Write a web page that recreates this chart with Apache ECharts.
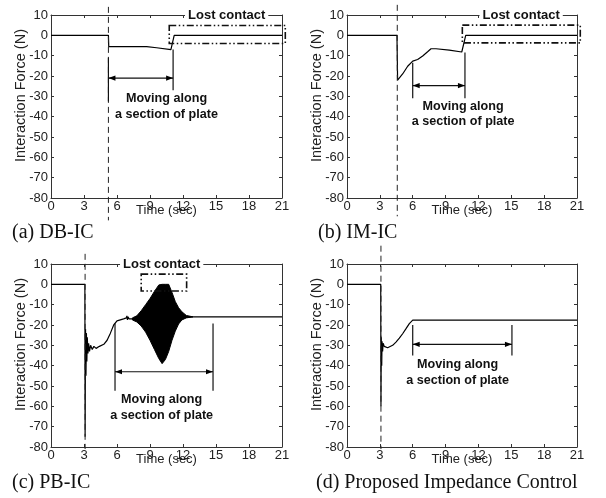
<!DOCTYPE html>
<html>
<head>
<meta charset="utf-8">
<style>
  html, body { margin: 0; padding: 0; background: #fff; }
  #chart { width: 606px; height: 498px; }
</style>
<script src="https://cdn.jsdelivr.net/npm/echarts@6/dist/echarts.min.js"></script>
</head>
<body>
<div id="chart"></div>
<script>
// axis ranges (same for all four panels)
const timeRange = [0, 21, 3];       // min, max, step (sec)
const forceRange = [-80, 10, 10];   // min, max, step (N)

// (a) DB-IC
const dbTime  = [0, 5.22, 5.25, 8.7, 9.6, 10.9, 11.2, 21];
const dbForce = [0, 0, -5.6, -5.6, -6.1, -7.0, 0, 0];

// (b) IM-IC
const imTime  = [0, 4.56, 4.62, 4.75, 5.08, 5.54, 6.0, 6.45, 6.91, 7.36, 7.67, 8.13, 9.34, 10.48, 10.84, 21];
const imForce = [0, 0, -22, -22.5, -19, -15.2, -12.7, -11.9, -10.2, -8.1, -6.6, -6.6, -7.3, -8.2, 0, 0];

// (c) PB-IC, main trace
const pbTime  = [0, 3.08, 3.1, 3.14, 3.18, 3.22, 3.26, 3.3, 3.36, 3.42, 3.5, 3.6, 3.75, 3.9, 4.1, 4.4, 4.8, 5.1, 5.4, 5.7, 6.0, 6.3, 6.6, 6.85, 6.9, 6.95, 7.0, 7.1, 7.4, 12.9, 21];
const pbForce = [0, 0, -75, -22, -45, -24, -38, -26, -34, -29, -33, -30, -32, -30.5, -31.5, -30.5, -29.5, -27.5, -24, -20, -18, -17.5, -17, -16.5, -15.5, -17.5, -16, -17, -17, -16, -16];
// (c) PB-IC, envelope of the fast oscillation
const envTime  = [7.4, 7.8, 8.2, 8.6, 9.0, 9.4, 9.8, 10.1, 10.4, 10.7, 11.0, 11.3, 11.6, 11.9, 12.3, 12.9];
const envUpper = [-16.5, -15.5, -13, -10, -7, -3.5, -0.3, 0, 0, 0, -4, -8.5, -11.5, -13.5, -15.3, -16];
const envLower = [-17.5, -18.5, -20.5, -23.5, -27.5, -32, -36.5, -39, -37, -33, -27.5, -23, -19.5, -17.5, -16.5, -16];

// (d) Proposed impedance control
const piTime  = [0, 3.08, 3.1, 3.13, 3.17, 3.2, 3.25, 3.3, 3.4, 3.71, 4.17, 4.47, 4.78, 5.08, 5.39, 5.69, 6.0, 21];
const piForce = [0, 0, -60, -26, -40, -28, -33, -29, -30.5, -31.2, -30, -28.4, -26.5, -24.3, -21.8, -19.3, -17.6, -17.6];

const captions = ['(a) DB-IC', '(b) IM-IC', '(c) PB-IC', '(d) Proposed Impedance Control'];

// annotations in data units
const notes = [
  { dash: [5.22, 14, -91], arrow: [5.22, 11.1, -21], ticks: [[5.22, -11, -32.5], [11.1, -7, -27]], text: [10.5, -35], box: [10.75, 21.3, 4.8, -4], lost: 15.97 },
  { dash: [4.59, 15, -89], arrow: [6.0, 10.77, -24.7], ticks: [[6.0, -13.5, -31], [10.77, -8.5, -31]], text: [10.6, -38.8], box: [10.53, 21.3, 5, -3.7], lost: 15.9 },
  { dash: [3.1, 15, -81], arrow: [5.82, 14.73, -43], ticks: [[5.82, -19.3, -52.3], [14.73, -19.3, -52.3]], text: [10.06, -60.5], box: [8.2, 12.33, 5, -3.3], lost: 10.06 },
  { dash: [3.1, 19, -81], arrow: [6.0, 15.06, -29.5], ticks: [[6.0, -20, -35], [15.06, -20, -35]], text: [10.1, -43.4], box: null, lost: null }
];

const zip = (a, b) => a.map((v, k) => [v, b[k]]);

const grids = [
  { left: 51, top: 15, width: 231, height: 183 },
  { left: 347, top: 15, width: 230, height: 183 },
  { left: 51, top: 264, width: 231, height: 183 },
  { left: 347, top: 264, width: 230, height: 183 }
];
const captionPos = [[12, 223], [318, 223], [12, 473], [316, 473]];

const axisColor = '#333';
const font = 'Liberation Sans, Arial, sans-serif';

const xAxes = [], yAxes = [];
grids.forEach((g, i) => {
  const common = {
    gridIndex: i, type: 'value',
    axisLine: { show: true, onZero: false, lineStyle: { color: axisColor, width: 1 } },
    axisTick: { show: true, inside: true, length: 3, lineStyle: { color: axisColor } },
    splitLine: { show: false }
  };
  xAxes.push({
    ...common, position: 'bottom',
    min: timeRange[0], max: timeRange[1], interval: timeRange[2],
    axisLabel: { margin: 2, fontSize: 13, color: '#222', fontFamily: font, showMinLabel: true, showMaxLabel: true },
    name: 'Time (sec)', nameLocation: 'middle', nameGap: 6, nameMoveOverlap: false,
    nameTextStyle: { fontSize: 13, color: '#222', fontFamily: font }
  });
  xAxes.push({
    ...common, position: 'top',
    min: timeRange[0], max: timeRange[1], interval: timeRange[2],
    axisLabel: { show: false }
  });
  yAxes.push({
    ...common, position: 'left',
    min: forceRange[0], max: forceRange[1], interval: forceRange[2],
    axisLabel: { margin: 3, fontSize: 13, color: '#222', fontFamily: font, showMinLabel: true, showMaxLabel: true },
    name: 'Interaction Force (N)', nameLocation: 'middle', nameGap: 23, nameMoveOverlap: false,
    nameTextStyle: { fontSize: 14.5, color: '#222', fontFamily: font, padding: [0, 0, 0, 22] }
  });
  yAxes.push({
    ...common, position: 'right',
    min: forceRange[0], max: forceRange[1], interval: forceRange[2],
    axisLabel: { show: false }
  });
});

const lineSeries = (i, t, f) => ({
  type: 'line', xAxisIndex: 2 * i, yAxisIndex: 2 * i,
  data: zip(t, f), showSymbol: false, symbol: 'none',
  lineStyle: { color: '#000', width: 1.2 }, z: 3
});

const chart = echarts.init(document.getElementById('chart'), null, { renderer: 'canvas' });

chart.setOption({
  animation: false,
  backgroundColor: '#fff',
  grid: grids.map(g => ({ ...g, outerBoundsMode: 'none', containLabel: false })),
  xAxis: xAxes,
  yAxis: yAxes,
  title: captions.map((c, i) => ({
    text: c, left: captionPos[i][0], top: captionPos[i][1], padding: 0,
    textStyle: { fontFamily: 'Liberation Serif, Times New Roman, serif', fontSize: 20, fontWeight: 'normal', color: '#111' }
  })),
  series: [
    lineSeries(0, dbTime, dbForce),
    lineSeries(1, imTime, imForce),
    lineSeries(2, pbTime, pbForce),
    {
      type: 'custom', xAxisIndex: 4, yAxisIndex: 4,
      data: envTime.map((t, k) => [t, envUpper[k], envLower[k]]),
      encode: { x: 0, y: [1, 2] },
      renderItem(params, api) {
        if (params.dataIndex !== 0) return null;
        const pts = envTime.map((t, k) => api.coord([t, envUpper[k]]));
        for (let k = envTime.length - 1; k >= 0; k--) pts.push(api.coord([envTime[k], envLower[k]]));
        return { type: 'polygon', shape: { points: pts }, style: { fill: '#000', stroke: '#000', lineWidth: 1 } };
      },
      z: 4
    },
    lineSeries(3, piTime, piForce)
  ]
});

// annotation layer, placed through the axes
const graphics = [];
notes.forEach((n, i) => {
  const p = (t, f) => chart.convertToPixel({ xAxisIndex: 2 * i, yAxisIndex: 2 * i }, [t, f]);
  const seg = (a, b, style) => graphics.push({
    type: 'line', z: 100, silent: true,
    shape: { x1: a[0], y1: a[1], x2: b[0], y2: b[1] },
    style: { stroke: '#111', lineWidth: 1.2, ...style }
  });

  // dashed contact-time line
  seg(p(n.dash[0], n.dash[1]), p(n.dash[0], n.dash[2]), { lineDash: [6, 4], lineWidth: 1, stroke: '#222' });

  // section markers
  n.ticks.forEach(tk => seg(p(tk[0], tk[1]), p(tk[0], tk[2]), {}));

  // double arrow
  const a = p(n.arrow[0], n.arrow[2]);
  const b = p(n.arrow[1], n.arrow[2]);
  seg(a, b, {});
  graphics.push({ type: 'polygon', z: 100, silent: true,
    shape: { points: [[a[0], a[1]], [a[0] + 7, a[1] - 2.6], [a[0] + 7, a[1] + 2.6]] }, style: { fill: '#000' } });
  graphics.push({ type: 'polygon', z: 100, silent: true,
    shape: { points: [[b[0], b[1]], [b[0] - 7, b[1] - 2.6], [b[0] - 7, b[1] + 2.6]] }, style: { fill: '#000' } });

  // label
  const tp = p(n.text[0], n.text[1]);
  graphics.push({ type: 'text', z: 101, silent: true, x: tp[0], y: tp[1],
    style: { text: 'Moving along\na section of plate', align: 'center', verticalAlign: 'middle',
      fontSize: 12.6, fontWeight: 'bold', fontFamily: font, lineHeight: 15.5, fill: '#111' } });

  // lost contact box + label
  if (n.box) {
    const tl = p(n.box[0], n.box[2]);
    const br = p(n.box[1], n.box[3]);
    graphics.push({ type: 'rect', z: 100, silent: true,
      shape: { x: tl[0], y: tl[1], width: br[0] - tl[0], height: br[1] - tl[1] },
      style: { fill: 'none', stroke: '#111', lineWidth: 1.6, lineDash: [7, 2.5, 1.5, 2.5, 1.5, 2.5] } });
  }
  if (n.lost !== null) {
    const lp = p(n.lost, forceRange[1]);
    graphics.push({ type: 'text', z: 101, silent: true, x: lp[0], y: lp[1],
      style: { text: 'Lost contact', align: 'center', verticalAlign: 'middle',
        fontSize: 13, fontWeight: 'bold', fontFamily: font, fill: '#111',
        backgroundColor: '#fff', padding: [1, 3] } });
  }
});

chart.setOption({ graphic: graphics });
</script>
</body>
</html>
